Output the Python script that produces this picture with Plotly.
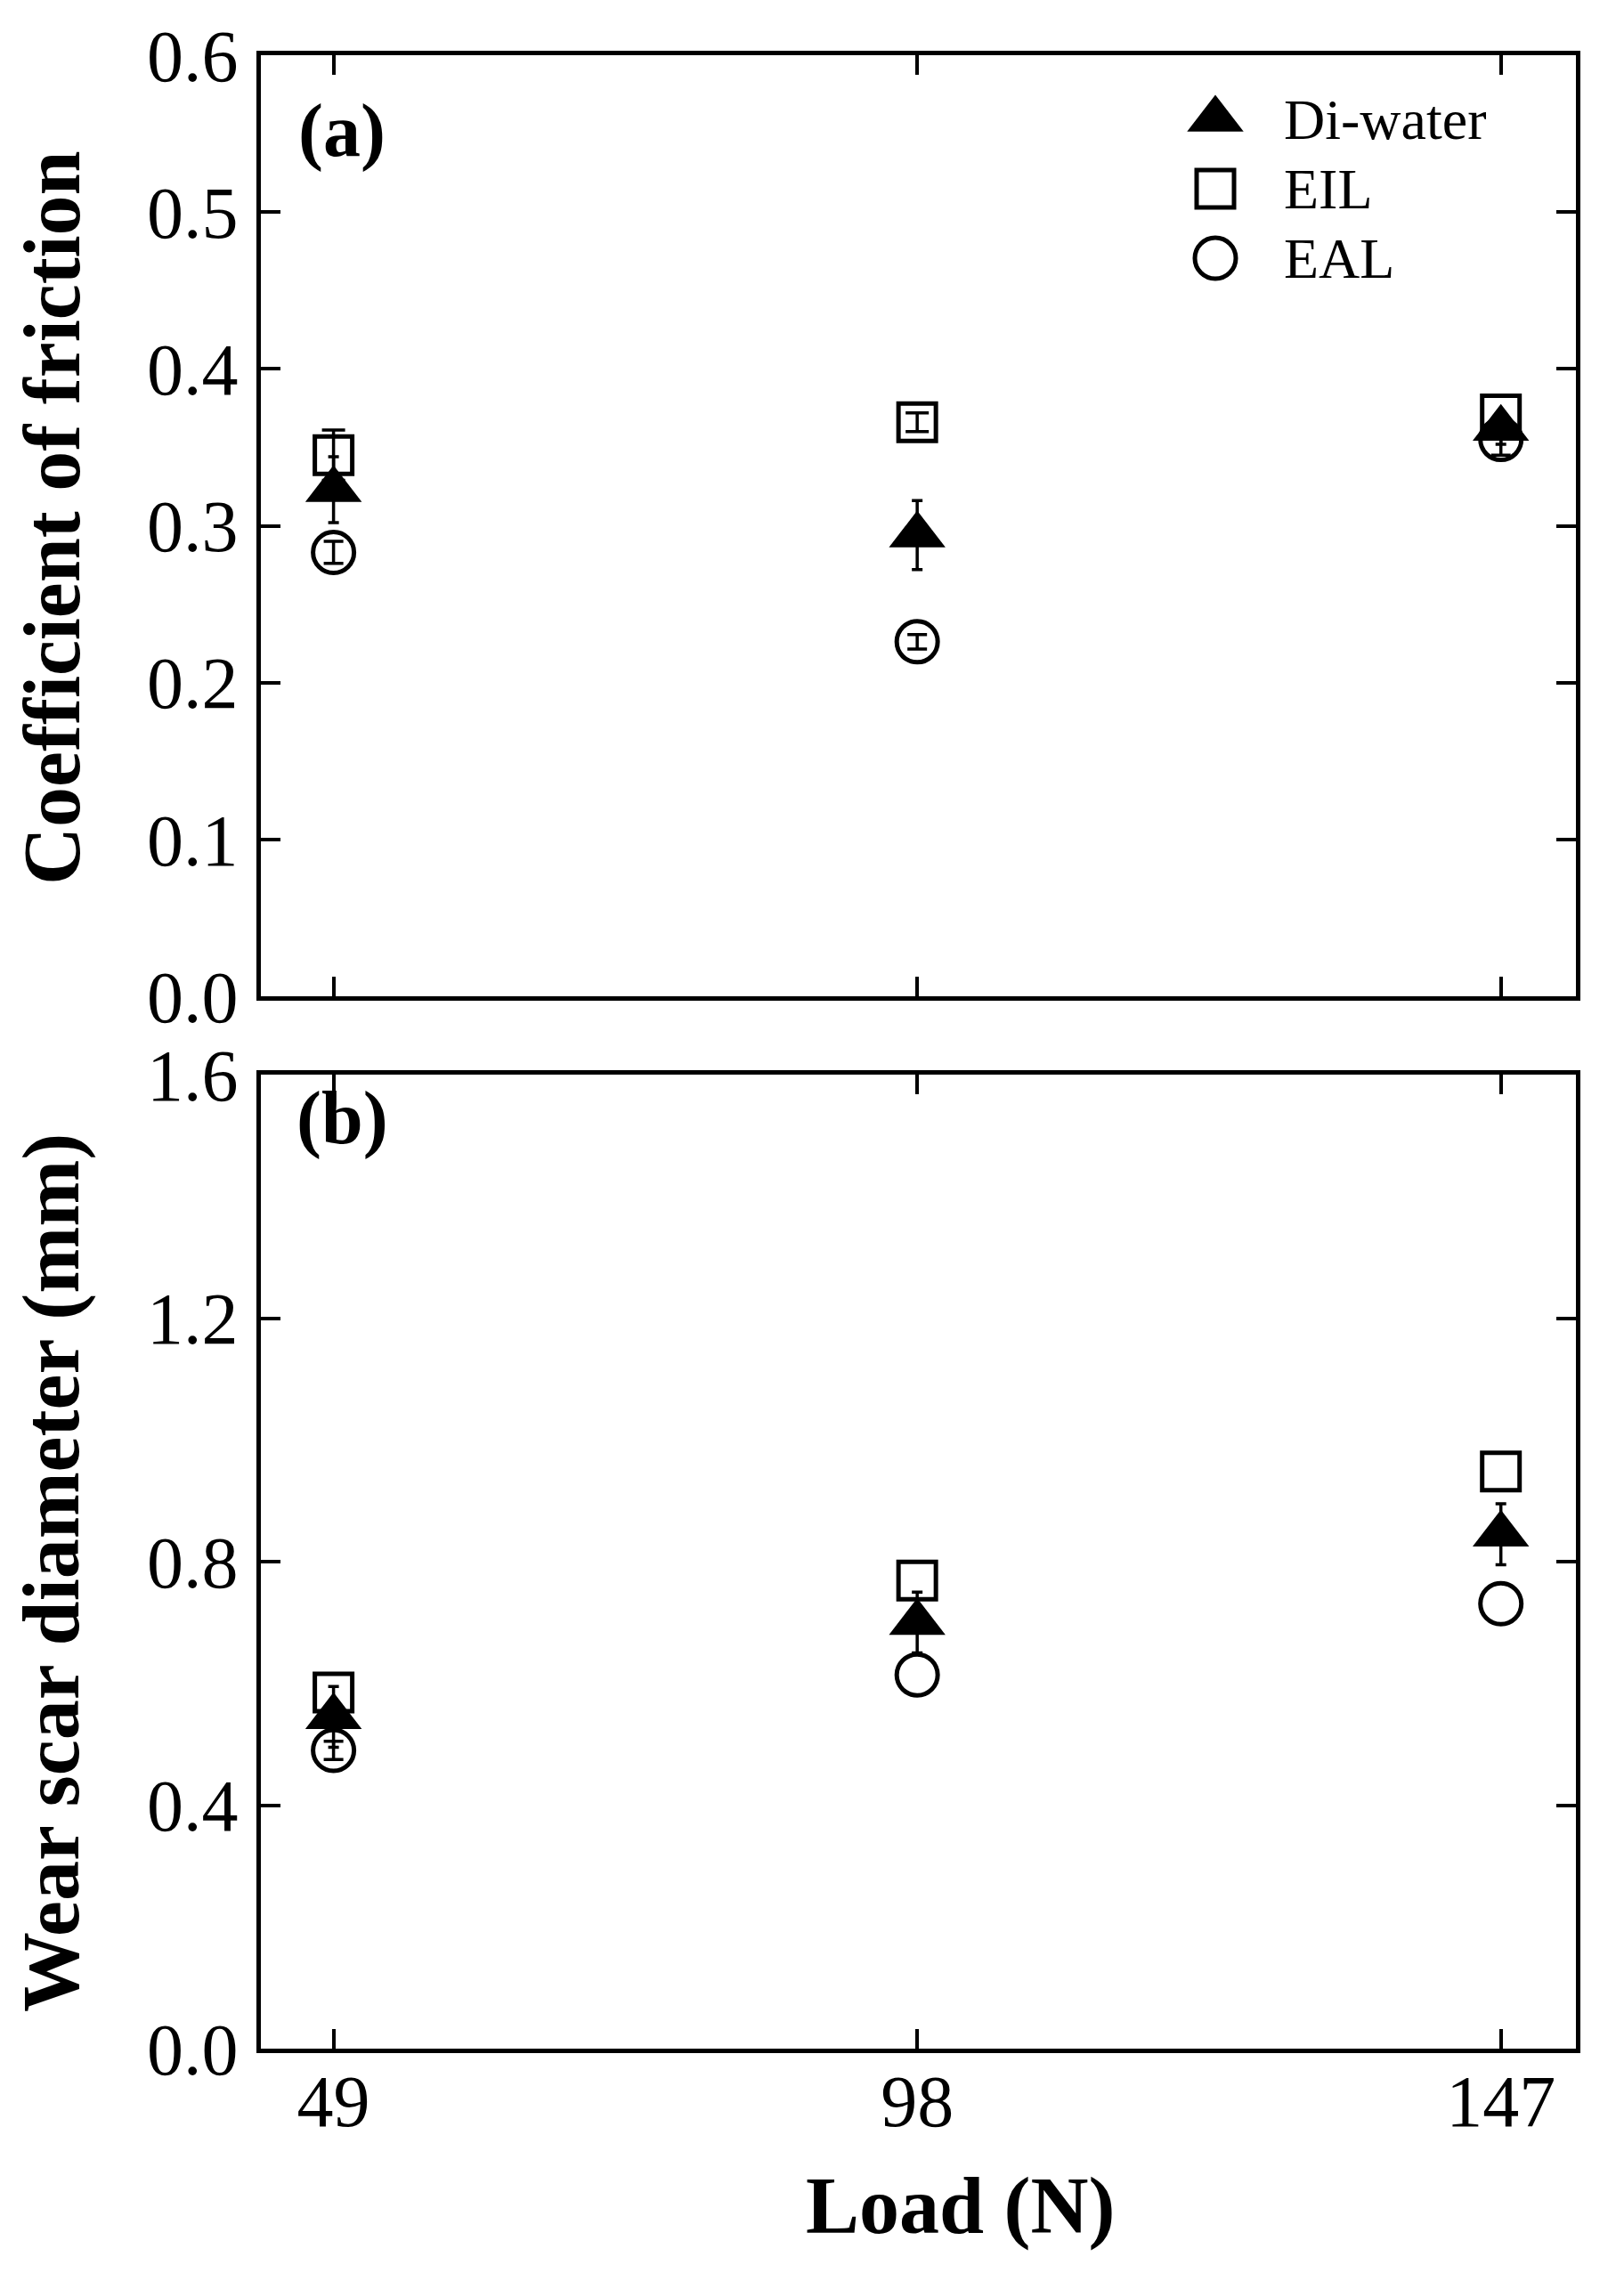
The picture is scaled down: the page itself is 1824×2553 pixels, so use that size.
import plotly.graph_objects as go

# loads (N)
loads = [49, 98, 147]

# (a) coefficient of friction
cof_water = [0.323, 0.294, 0.362]
cof_water_err = [0.021, 0.022, 0.010]
cof_eil = [0.345, 0.366, 0.371]
cof_eil_err = [0.016, 0.006, None]
cof_eal = [0.283, 0.226, 0.355]
cof_eal_err = [0.007, 0.0046, 0.010]

# (b) wear scar diameter (mm)
wsd_water = [0.545, 0.700, 0.845]
wsd_water_err = [0.050, 0.050, 0.050]
wsd_eil = [0.585, 0.769, 0.948]
wsd_eil_err = [None, None, None]
wsd_eal = [0.490, 0.614, 0.731]
wsd_eal_err = [0.015, None, None]

names = ["Di-water", "EIL", "EAL"]

W, H = 1824, 2553
L, R, T, B = 293, 1770, 62, 2301  # plot area in pixels
TOP_BOTTOM = 1119                 # bottom edge of panel (a)
FONT = "Times New Roman, Liberation Serif, serif"


def px(x, y):
    # pixel position -> paper coords
    return (x - L) / (R - L), (B - y) / (B - T)


sym = {
    "Di-water": dict(symbol="triangle-up", size=55, color="black", line=dict(width=0)),
    "EIL": dict(symbol="square-open", size=42, color="black", line=dict(width=5)),
    "EAL": dict(symbol="circle-open", size=46, color="black", line=dict(width=5)),
}
cap = {"Di-water": 6, "EIL": 13, "EAL": 11}

fig = go.Figure()

panels = [
    ("y", {"EIL": (cof_eil, cof_eil_err), "EAL": (cof_eal, cof_eal_err), "Di-water": (cof_water, cof_water_err)}),
    ("y2", {"EIL": (wsd_eil, wsd_eil_err), "EAL": (wsd_eal, wsd_eal_err), "Di-water": (wsd_water, wsd_water_err)}),
]
for yref, series in panels:
    xref = "x" if yref == "y" else "x2"
    for nm, (vals, errs) in series.items():
        # error bars only where they can be seen in the figure
        keep = [i for i, e in enumerate(errs) if e is not None]
        if keep:
            fig.add_trace(go.Scatter(
                x=[loads[i] for i in keep], y=[vals[i] for i in keep],
                mode="markers", showlegend=False, hoverinfo="skip",
                xaxis=xref, yaxis=yref,
                marker=dict(size=1, color="rgba(0,0,0,0)"),
                error_y=dict(type="data", array=[errs[i] for i in keep], color="black",
                             thickness=3.5, width=cap[nm]),
            ))
        fig.add_trace(go.Scatter(
            x=loads, y=vals, mode="markers", name=nm, showlegend=False,
            xaxis=xref, yaxis=yref,
            marker=sym[nm],
        ))

# legend drawn by hand so the symbols can be as big as in the figure
leg_y = [134, 212, 290]
for nm, yy in zip(names, leg_y):
    fig.add_trace(go.Scatter(
        x=[1365], y=[yy], mode="markers", showlegend=False, hoverinfo="skip",
        xaxis="x3", yaxis="y3", marker=sym[nm],
    ))
    fig.add_annotation(x=1440, y=yy, xref="x3", yref="y3", text=nm, showarrow=False,
                       xanchor="left", yanchor="middle", font=dict(size=64, family=FONT, color="black"))

axis_common = dict(
    showline=True, linewidth=5, linecolor="black", mirror="ticks",
    ticks="inside", ticklen=22, tickwidth=4, tickcolor="black",
    showgrid=False, zeroline=False,
    tickfont=dict(size=82, family=FONT, color="black"),
)

top_lo = px(0, TOP_BOTTOM)[1]
bot_hi = px(0, 1207)[1]

fig.update_layout(
    width=W, height=H,
    margin=dict(l=L, r=W - R, t=T, b=H - B),
    plot_bgcolor="white", paper_bgcolor="white",
    showlegend=False,
    xaxis=dict(axis_common, domain=[0, 1], range=[42.9, 153.3], tickvals=loads,
               showticklabels=False, anchor="y"),
    yaxis=dict(axis_common, domain=[top_lo, 1], range=[0, 0.6], dtick=0.1,
               tickformat=".1f", ticklabelstandoff=4, anchor="x"),
    xaxis2=dict(axis_common, domain=[0, 1], range=[42.9, 153.3], tickvals=loads,
                ticklabelstandoff=-16, anchor="y2"),
    yaxis2=dict(axis_common, domain=[0, bot_hi], range=[0, 1.6], dtick=0.4,
                tickformat=".1f", ticklabelstandoff=4, anchor="x2"),
    xaxis3=dict(range=[L, R], visible=False, overlaying="x", anchor="y3"),
    yaxis3=dict(range=[TOP_BOTTOM, T], visible=False, overlaying="y", anchor="x3"),
)

title_font = dict(size=90, family=FONT, color="black")
ax, ay = px(58, 582)
fig.add_annotation(x=ax, y=ay, xref="paper", yref="paper", text="<b>Coefficient of friction</b>",
                   textangle=-90, showarrow=False, xanchor="center", yanchor="middle", font=title_font)
ax, ay = px(58, 1767)
fig.add_annotation(x=ax, y=ay, xref="paper", yref="paper", text="<b>Wear scar diameter (mm)</b>",
                   textangle=-90, showarrow=False, xanchor="center", yanchor="middle", font=title_font)
ax, ay = px(1079, 2478)
fig.add_annotation(x=ax, y=ay, xref="paper", yref="paper", text="<b>Load (N)</b>",
                   showarrow=False, xanchor="center", yanchor="middle", font=title_font)

panel_font = dict(size=84, family=FONT, color="black")
for lab, (cx, cy) in [("(a)", (384, 147)), ("(b)", (384, 1256))]:
    ax, ay = px(cx, cy)
    fig.add_annotation(x=ax, y=ay, xref="paper", yref="paper", text="<b>%s</b>" % lab,
                       showarrow=False, xanchor="center", yanchor="middle", font=panel_font)

fig.write_html("out.html", config={"displayModeBar": False},
               post_script="document.body.style.margin='0';")
